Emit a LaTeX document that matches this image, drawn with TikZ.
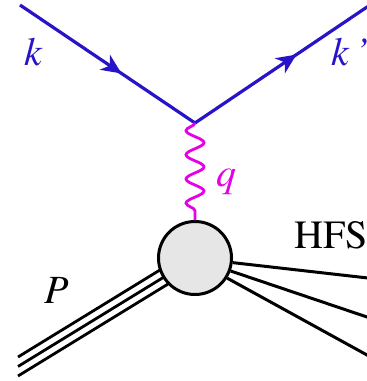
\documentclass[tikz,border=0pt]{standalone}
\usepackage{fontspec}
\setmainfont{texgyretermes}[Extension=.otf, UprightFont=*-regular, ItalicFont=*-italic, BoldFont=*-bold, BoldItalicFont=*-bolditalic]
\usetikzlibrary{arrows.meta,decorations.pathmorphing,decorations.markings,calc}
\definecolor{eblue}{RGB}{40,20,200}
\definecolor{gmag}{RGB}{230,0,230}
\definecolor{blobfill}{RGB}{230,230,230}
\begin{document}
\begin{tikzpicture}[x=1pt,y=-1pt,
  electron/.style={draw=eblue, line width=3.2pt, postaction={decorate},
    decoration={markings, mark=at position 0.58 with {\arrow[eblue]{Stealth[length=20pt,width=18pt,inset=6pt]}}}},
  photon/.style={draw=gmag, line width=2.8pt, decorate,
    decoration={snake, segment length=24.2pt, amplitude=-9pt}},
  proton/.style={draw=black, line width=2.8pt},
  hfsline/.style={draw=black, line width=3pt},
  blob/.style={draw=black, circle, fill=blobfill, line width=3pt, minimum size=73pt, inner sep=0pt},
  lbl/.style={font=\fontsize{40}{40}\selectfont, inner sep=0pt}
]
\useasboundingbox (0,0) rectangle (367,381);
% coordinates
\coordinate (ein) at (20,5);
\coordinate (v) at (195,123);
\coordinate (eout) at (370,5);
\coordinate (cc) at (195,258);
\coordinate (p1) at (18,357);
\coordinate (p2) at (18,366.5);
\coordinate (p3) at (18,376);
\coordinate (h1) at (375,278.8);
\coordinate (h2) at (375,319.7);
\coordinate (h3) at (375,359.4);
% proton
\draw[proton] (p1) -- ($(cc)+(0,-9.5)$);
\draw[proton] (p2) -- (cc);
\draw[proton] (p3) -- ($(cc)+(0,9.5)$);
% blob
\node[blob] (c) at (cc) {};
% electron
\draw[electron] (ein) -- (v);
\draw[electron] (v) -- (eout);
% photon
\draw[photon] (v) -- (c.north);
% hadronic final state
\draw[hfsline] (c.-7.5) -- (h1);
\draw[hfsline] (c.-20.8) -- (h2);
\draw[hfsline] (c.-32.4) -- (h3);
% labels
\node[lbl, text=eblue, anchor=base] (kl) at (33,65) {\itshape k};
\node[lbl, text=eblue, anchor=base west] (kpl) at (331,65) {\itshape k\,’};
\node[lbl, text=gmag, anchor=base west] (ql) at (216,186) {\itshape q};
\node[lbl, anchor=base] (pl) at (57,303) {\itshape P};
\node[lbl, anchor=base west] (hfsl) at (294,248) {HFS};
\end{tikzpicture}
\end{document}
